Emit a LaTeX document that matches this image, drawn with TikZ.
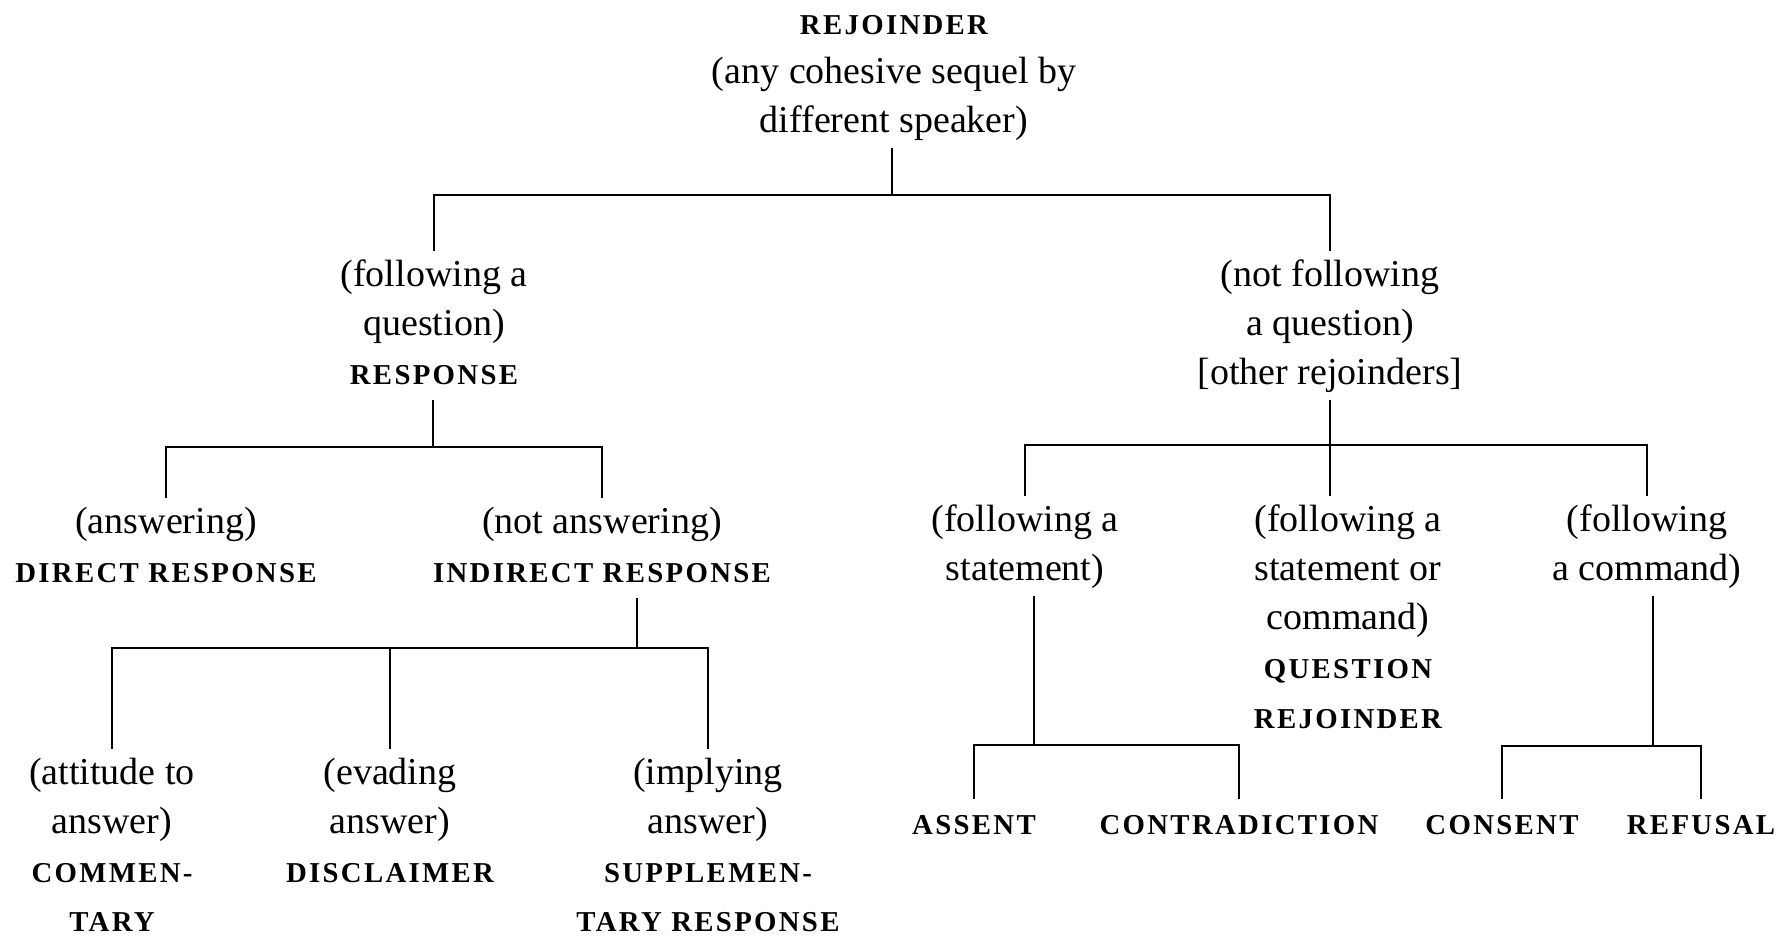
\documentclass[tikz,border=0pt]{standalone}
\usepackage{fontspec}
\setmainfont{Liberation Serif}
\usepackage{tikz}
\newcommand{\smc}[1]{{\fontsize{7.2}{12.3}\selectfont\bfseries\addfontfeature{LetterSpace=8}#1}}

\begin{document}
\begin{tikzpicture}[x=0.25pt,y=-0.25pt,
  lbl/.style={anchor=north,inner sep=0pt,align=center,font=\fontsize{9.5}{12.3}\selectfont,
    execute at begin node=\strut,execute at end node=\strut},
  branch/.style={line width=0.6pt}]
\useasboundingbox (0,0) rectangle (1785,936);

\node[lbl] (rej) at (894,-1) {\strut\smc{REJOINDER}\\(any cohesive sequel by\\different speaker)};
\node[lbl] (fq) at (434,251) {\strut(following a\\question)\\\smc{RESPONSE}};
\node[lbl] (nfq) at (1330,251) {\strut(not following\\a question)\\{[}other rejoinders{]}};
\node[lbl] (ans) at (166,498) {\strut(answering)\\\smc{DIRECT RESPONSE}};
\node[lbl] (nans) at (602,498) {\strut(not answering)\\\smc{INDIRECT RESPONSE}};
\node[lbl] (st) at (1025,496) {\strut(following a\\statement)};
\node[lbl] (sc) at (1348,496) {\strut(following a\\statement or\\command)\\\smc{QUESTION}\\\smc{REJOINDER}};
\node[lbl] (cm) at (1647,496) {\strut(following\\a command)};
\node[lbl] (com) at (112,749) {\strut(attitude to\\answer)\\\smc{COMMEN-}\\\smc{TARY}};
\node[lbl] (dis) at (390,749) {\strut(evading\\answer)\\\smc{DISCLAIMER}};
\node[lbl] (sup) at (708,749) {\strut(implying\\answer)\\\smc{SUPPLEMEN-}\\\smc{TARY RESPONSE}};
\node[lbl] (assent) at (974,799) {\smc{ASSENT}};
\node[lbl] (contra) at (1239,799) {\smc{CONTRADICTION}};
\node[lbl] (consent) at (1502,799) {\smc{CONSENT}};
\node[lbl] (refusal) at (1701,799) {\smc{REFUSAL}};

\coordinate (j0) at (892,195);
\coordinate (j1) at (433,447);
\coordinate (j2) at (1330,445);
\coordinate (j3) at (637,648);
\coordinate (j4) at (1034,745);
\coordinate (j5) at (1653,746);

\draw[branch] (j0 |- rej.south) -- (j0);
\draw[branch] (fq.north) |- (j0) -| (nfq.north);
\draw[branch] (j1 |- fq.south) -- (j1);
\draw[branch] (ans.north) |- (j1) -| (nans.north);
\draw[branch] (j2 |- nfq.south) -- (j2) -- (j2 |- sc.north);
\draw[branch] (st.north) |- (j2) -| (cm.north);
\draw[branch] (j3 |- nans.south) -- (j3);
\draw[branch] (com.north) |- (j3) -| (sup.north);
\draw[branch] (dis.north) -- (dis.north |- j3);
\draw[branch] (j4 |- st.south) -- (j4);
\draw[branch] (assent.north) |- (j4) -| (contra.north);
\draw[branch] (j5 |- cm.south) -- (j5);
\draw[branch] (consent.north) |- (j5) -| (refusal.north);
\end{tikzpicture}
\end{document}
